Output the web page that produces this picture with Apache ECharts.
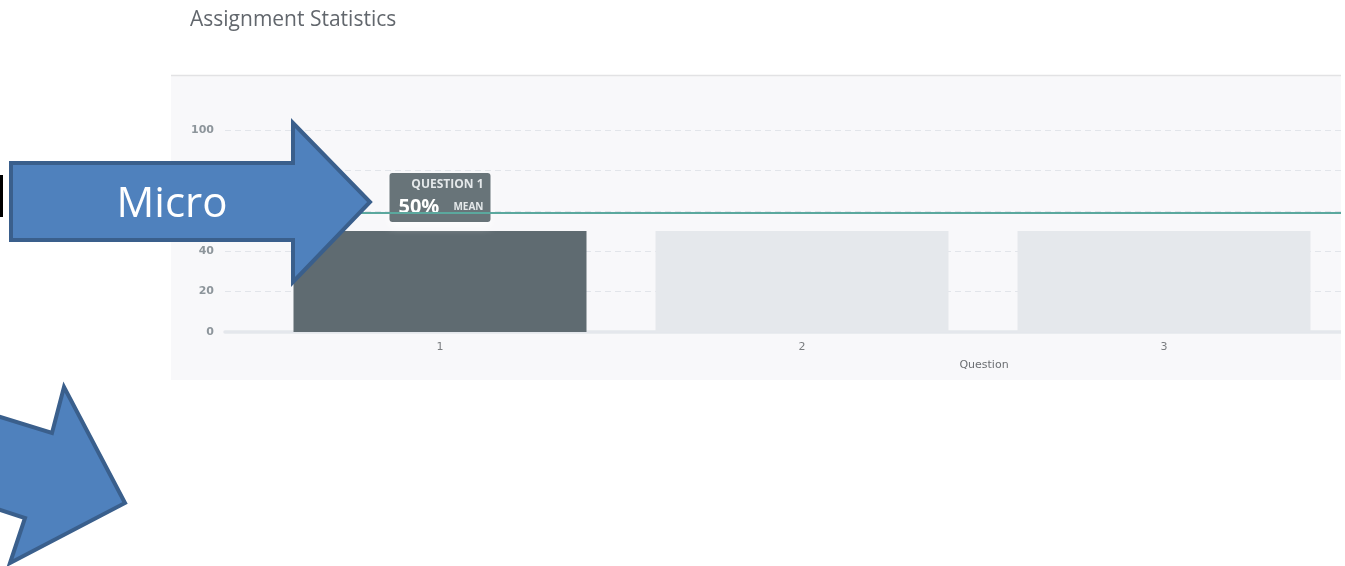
<!DOCTYPE html>
<html>
<head>
<meta charset="utf-8">
<title>Assignment Statistics</title>
<script src="https://cdn.jsdelivr.net/npm/echarts@6/dist/echarts.min.js"></script>
<style>
    html, body {
        margin: 0;
        padding: 0;
        background: #ffffff;
    }
    #bar-chart {
        width: 1345px;
        height: 566px;
    }
</style>
</head>
<body>
<div id="bar-chart"></div>
<script>
// values
const questions = ['1', '2', '3'];
const meanScores = [50, 50, 50];
const yTicks = [0, 20, 40, 60, 80, 100];
const meanLineValue = 59;
const selectedQuestion = 0;

const echart = echarts.init(document.getElementById('bar-chart'));

const barData = meanScores.map((v, i) => ({
    value: v,
    itemStyle: {
        color: i === selectedQuestion ? '#5f6b71' : '#e5e8ec'
    },
    label: {
        show: i === selectedQuestion
    }
}));

// annotation arrows pasted on top of the screenshot
const arrowStyle = {
    fill: '#4f81bd',
    stroke: '#3a5f8c',
    lineWidth: 4
};

const option = {
    animation: false,
    backgroundColor: '#ffffff',
    title: {
        text: 'Assignment Statistics',
        left: 185,
        top: 5,
        textStyle: {
            fontFamily: 'Open Sans',
            fontSize: 21,
            fontWeight: 'normal',
            color: '#62676d'
        }
    },
    graphic: [
        {
            type: 'rect',
            z: -5,
            silent: true,
            shape: { x: 171, y: 75, width: 1170, height: 305 },
            style: { fill: '#f8f8fa' }
        },
        {
            type: 'line',
            z: -4,
            silent: true,
            shape: { x1: 171, y1: 75.5, x2: 1341, y2: 75.5 },
            style: { stroke: '#e2e2e4', lineWidth: 1.5 }
        },
        // page margin right of the panel
        {
            type: 'rect',
            z: 50,
            silent: true,
            shape: { x: 1341, y: 76, width: 10, height: 304 },
            style: { fill: '#ffffff' }
        },
        {
            type: 'rect',
            z: 100,
            shape: { x: 0, y: 175, width: 3, height: 42 },
            style: { fill: '#000000' }
        },
        {
            type: 'polygon',
            z: 100,
            shape: {
                points: [[11, 163], [293, 163], [293, 123], [370, 202], [293, 282], [293, 240], [11, 240]]
            },
            style: arrowStyle
        },
        {
            type: 'text',
            z: 101,
            x: 172,
            y: 205,
            style: {
                text: 'Micro',
                fill: '#ffffff',
                fontFamily: 'Open Sans',
                fontSize: 42,
                align: 'center',
                verticalAlign: 'middle'
            }
        },
        {
            type: 'polygon',
            z: 100,
            shape: {
                points: [[-6, 415], [52, 433], [64, 387], [125, 503], [10, 563], [25, 518], [-6, 508]]
            },
            style: arrowStyle
        }
    ],
    grid: [
        // full width grid: y labels, dashed lines, base line
        { left: 225, right: 4, top: 130, bottom: 234 },
        // bars
        { left: 259, width: 1087.5, top: 130, bottom: 234 }
    ],
    xAxis: [
        {
            gridIndex: 0,
            type: 'category',
            data: [''],
            offset: 3,
            axisLine: { lineStyle: { color: '#e4e7ec', width: 3.5 } },
            axisTick: { show: false },
            axisLabel: { show: false }
        },
        {
            gridIndex: 1,
            type: 'category',
            data: questions,
            axisLine: { show: false },
            axisTick: { show: false },
            axisLabel: {
                margin: 10,
                fontFamily: 'DejaVu Sans',
                fontSize: 11,
                color: '#7a7d80'
            },
            name: 'Question',
            nameLocation: 'middle',
            nameGap: 28,
            nameTextStyle: {
                fontFamily: 'DejaVu Sans',
                fontSize: 11,
                color: '#6b6e72',
                padding: [0, 0, 0, 364]
            }
        }
    ],
    yAxis: [
        {
            gridIndex: 0,
            type: 'value',
            min: yTicks[0],
            max: yTicks[yTicks.length - 1],
            interval: yTicks[1] - yTicks[0],
            axisLine: { show: false },
            axisTick: { show: false },
            axisLabel: {
                margin: 11,
                fontFamily: 'DejaVu Sans',
                fontSize: 11,
                fontWeight: 'bold',
                color: '#8d959b'
            },
            splitLine: {
                lineStyle: { color: '#e2e5ea', type: [6, 4], width: 1 }
            }
        },
        {
            gridIndex: 1,
            type: 'value',
            min: yTicks[0],
            max: yTicks[yTicks.length - 1],
            show: false
        }
    ],
    series: [
        {
            name: 'Mean',
            type: 'bar',
            xAxisIndex: 1,
            yAxisIndex: 1,
            barWidth: 293,
            data: barData,
            label: {
                position: 'top',
                distance: 9,
                width: 85,
                backgroundColor: 'rgba(95, 107, 113, 0.94)',
                borderRadius: 3,
                padding: [3, 7, 2, 9],
                shadowColor: 'rgba(255, 255, 255, 0.9)',
                shadowBlur: 8,
                shadowOffsetY: 4,
                formatter: p => '{q|QUESTION ' + p.name + '}\n{v|' + p.value + '%}{m|MEAN}',
                rich: {
                    q: {
                        align: 'right',
                        fontFamily: 'Open Sans',
                        fontSize: 12,
                        fontWeight: 'bold',
                        color: '#e4e8ea',
                        lineHeight: 18
                    },
                    v: {
                        align: 'left',
                        fontFamily: 'Open Sans',
                        fontSize: 20,
                        fontWeight: 'bold',
                        color: '#ffffff',
                        lineHeight: 26
                    },
                    m: {
                        align: 'right',
                        fontFamily: 'Open Sans',
                        fontSize: 10,
                        fontWeight: 'bold',
                        color: '#e4e8ea',
                        lineHeight: 26
                    }
                }
            },
            markLine: {
                silent: true,
                symbol: 'none',
                label: { show: false },
                lineStyle: { color: '#5ba89e', width: 2, type: 'solid' },
                data: [{ yAxis: meanLineValue }]
            }
        }
    ]
};

echart.setOption(option);
</script>
</body>
</html>
